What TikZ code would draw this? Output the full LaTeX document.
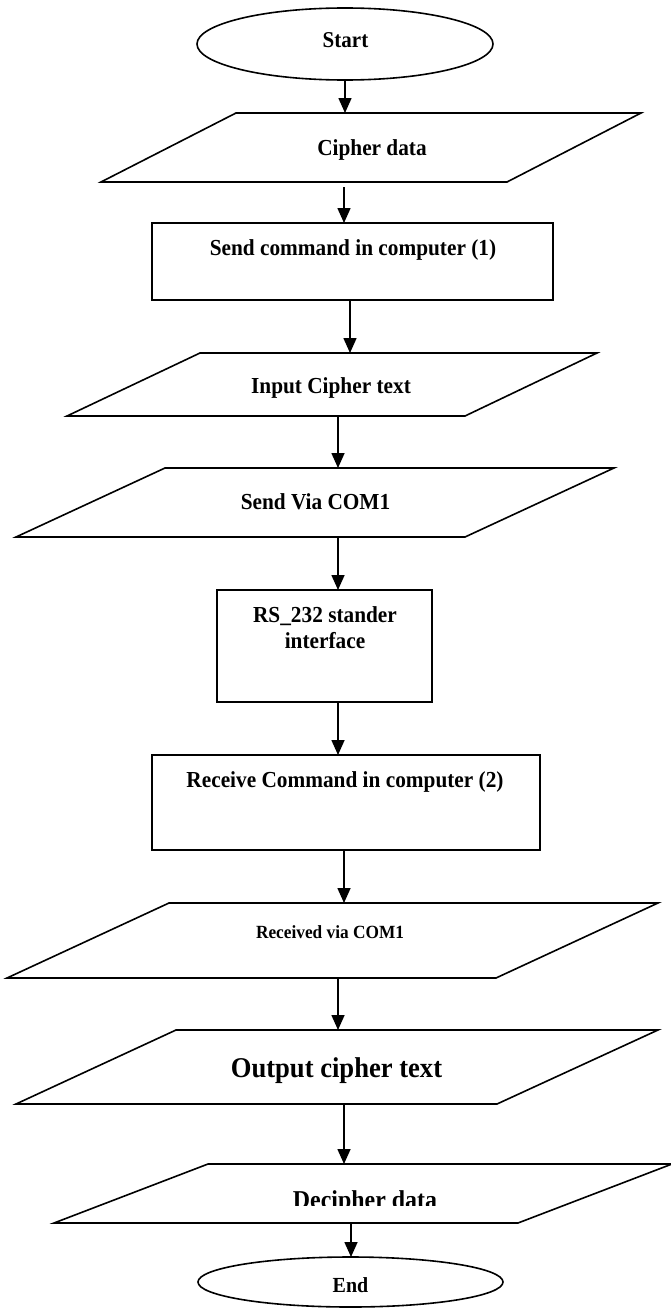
\documentclass[tikz,border=0pt]{standalone}
\usepackage{fontspec}
\setmainfont[FakeStretch=0.93]{Liberation Serif}
\usetikzlibrary{arrows.meta,shapes.geometric}
\begin{document}
\begin{tikzpicture}[x=1pt,y=-1pt,
  box/.style={draw,line width=1.6pt,rectangle,inner sep=0pt},
  term/.style={draw,line width=1.6pt,ellipse,inner sep=0pt},
  io/.style={draw,line width=1.6pt,line join=miter},
  lbl/.style={font=\bfseries\fontsize{22.9}{28}\selectfont,anchor=base,inner sep=0pt},
  arr/.style={line width=1.6pt,-{Triangle[width=13pt,length=15pt]}}]
\useasboundingbox (0,0) rectangle (671,1309);

% Start
\node[term,minimum width=296pt,minimum height=72pt] (start) at (345,44) {};
\node[lbl,font=\bfseries\fontsize{22.6}{28}\selectfont] (tstart) at (345.5,47) {Start};

% Cipher data
\draw[io] (236,113) -- (641,113) -- (507,182) -- (101,182) -- cycle;
\coordinate (cipherT) at (345,113);
\coordinate (cipherB) at (344,187);
\node[lbl] (tcipher) at (372,155.5) {Cipher data};

% Send command
\node[box,minimum width=401pt,minimum height=77pt] (send1) at (352.5,261.5) {};
\node[lbl] (tsend1) at (353,255) {Send command in computer (1)};
\coordinate (send1T) at (344,223);
\coordinate (send1B) at (350,300);

% Input Cipher text
\draw[io] (200,353) -- (597,353) -- (465,416) -- (67,416) -- cycle;
\coordinate (inT) at (350,353);
\coordinate (inB) at (338,416);
\node[lbl] (tin) at (331,393.5) {Input Cipher text};

% Send Via COM1
\draw[io] (165,468) -- (614,468) -- (465,537) -- (16,537) -- cycle;
\coordinate (viaT) at (338,468);
\coordinate (viaB) at (338,537);
\node[lbl] (tvia) at (315.5,509.5) {Send Via COM1};

% RS_232
\node[box,minimum width=215pt,minimum height=112pt] (rs) at (324.5,646) {};
\node[lbl] (trs1) at (325,622.5) {RS\_232 stander};
\node[lbl] (trs2) at (325,648.5) {interface};
\coordinate (rsT) at (338,590);
\coordinate (rsB) at (338,702);

% Receive Command
\node[box,minimum width=388pt,minimum height=95pt] (recv) at (346,802.5) {};
\node[lbl] (trecv) at (345,787.5) {Receive Command in computer (2)};
\coordinate (recvT) at (338,755);
\coordinate (recvB) at (344,850);

% Received via COM1
\draw[io] (169,903) -- (658,903) -- (496,978) -- (7,978) -- cycle;
\coordinate (rviaT) at (344,903);
\coordinate (rviaB) at (338,978);
\node[lbl,font=\bfseries\fontsize{18.6}{22}\selectfont] (trvia) at (330,938.5) {Received via COM1};

% Output cipher text
\draw[io] (176,1030) -- (658,1030) -- (497,1104) -- (16,1104) -- cycle;
\coordinate (outT) at (338,1030);
\coordinate (outB) at (344,1104);
\node[lbl,font=\bfseries\fontsize{28.6}{34}\selectfont] (tout) at (336.5,1077) {Output cipher text};

% Decipher data
\draw[io] (208,1164) -- (672,1164) -- (518,1223) -- (54,1223) -- cycle;
\coordinate (decT) at (344,1164);
\coordinate (decB) at (351,1223);
\begin{scope}
\clip (150,1170) rectangle (600,1205.5);
\node[lbl,font=\bfseries\fontsize{25.7}{31}\selectfont] (tdec) at (365,1208) {Decipher data};
\end{scope}

% End
\node[term,minimum width=305pt,minimum height=50pt] (end) at (350.5,1282) {};
\node[lbl,font=\bfseries\fontsize{21.5}{26}\selectfont] (tend) at (350.5,1292) {End};
\coordinate (endT) at (351,1257);

% connectors
\coordinate (startB) at (345,80);
\draw[arr] (startB) -- (cipherT);
\draw[arr] (cipherB) -- (send1T);
\draw[arr] (send1B) -- (inT);
\draw[arr] (inB) -- (viaT);
\draw[arr] (viaB) -- (rsT);
\draw[arr] (rsB) -- (recvT);
\draw[arr] (recvB) -- (rviaT);
\draw[arr] (rviaB) -- (outT);
\draw[arr] (outB) -- (decT);
\draw[arr] (decB) -- (endT);
\end{tikzpicture}
\end{document}
